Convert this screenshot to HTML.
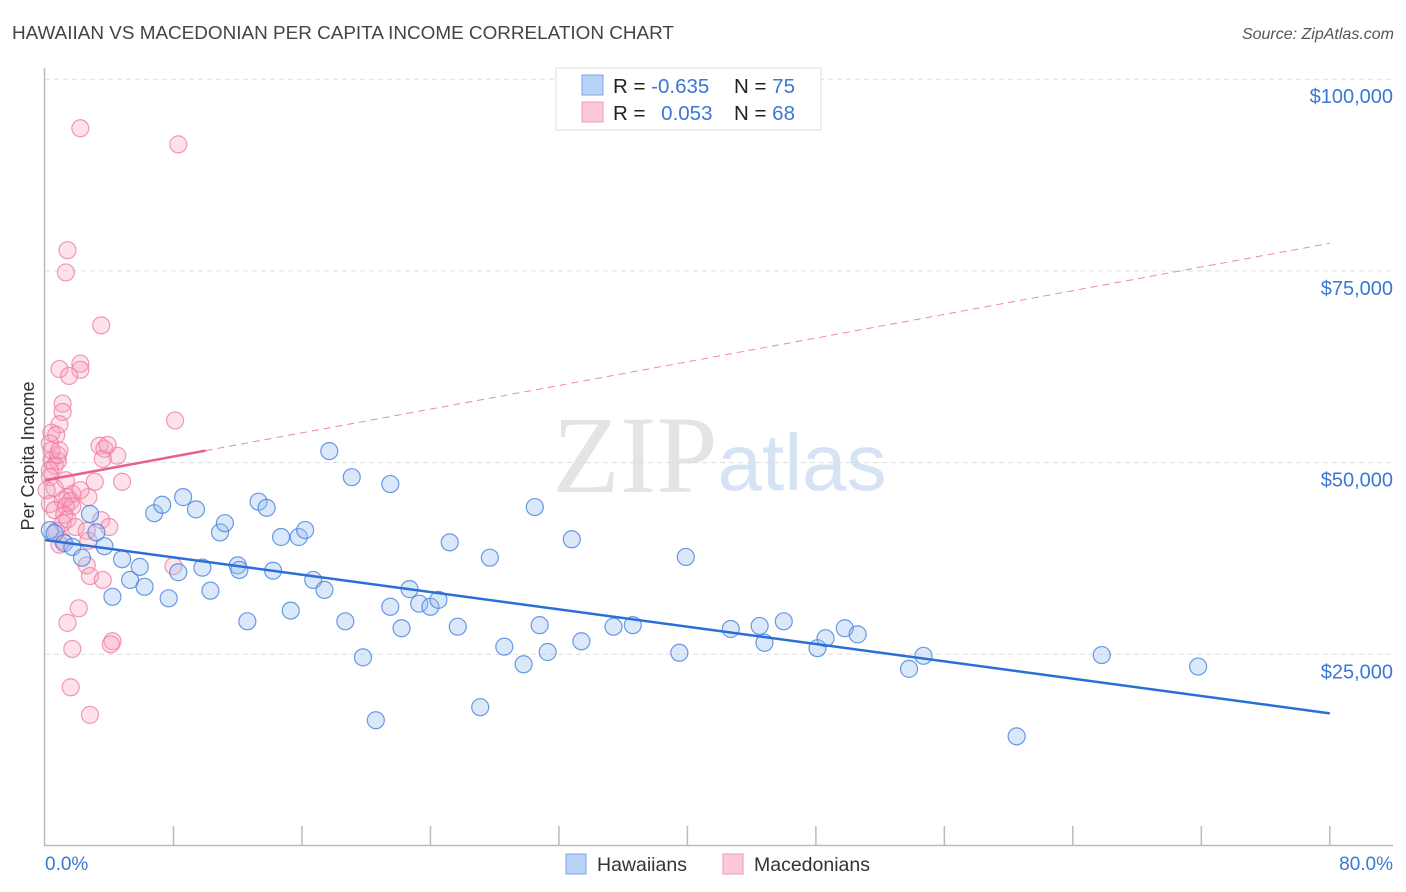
<!DOCTYPE html>
<html><head><meta charset="utf-8"><style>
body{margin:0;background:#fff;font-family:"Liberation Sans",sans-serif;}
#wrap{position:relative;width:1406px;height:892px;overflow:hidden;}
</style></head><body>
<div id="wrap">
<svg id="chart" width="1406" height="892" xmlns="http://www.w3.org/2000/svg">
<text x="12" y="39" font-size="18.9" fill="#444">HAWAIIAN VS MACEDONIAN PER CAPITA INCOME CORRELATION CHART</text>
<text x="1394" y="39" font-size="16" fill="#555" font-style="italic" text-anchor="end">Source: ZipAtlas.com</text>
<text x="635" y="492" font-size="110" fill="#e4e4e4" font-family="Liberation Serif" text-anchor="middle">ZIP</text>
<text x="802" y="490" font-size="80" fill="#d6e3f4" text-anchor="middle">atlas</text>
<g id="grid"></g>
<g id="axes"></g>
<g id="pts"></g>
<g id="trend"></g>
<text transform="translate(34,456) rotate(-90)" font-size="18" fill="#333" text-anchor="middle">Per Capita Income</text>
<text x="45" y="870" font-size="19" fill="#3a78d4">0.0%</text>
<text x="1393" y="870" font-size="19" fill="#3a78d4" text-anchor="end">80.0%</text>
<g>
<rect x="556" y="68" width="265" height="62" fill="#fff" stroke="#ddd"/>
<rect x="582" y="75" width="21" height="20" fill="#b9d2f5" stroke="#7aa6e6"/>
<rect x="582" y="102" width="21" height="20" fill="#fcc9d8" stroke="#f19ab6"/>
<text x="613" y="93" font-size="20.5" fill="#222">R = <tspan fill="#3a78d4">-0.635</tspan></text>
<text x="734" y="93" font-size="20.5" fill="#222">N = <tspan fill="#3a78d4">75</tspan></text>
<text x="613" y="120" font-size="20.5" fill="#222">R = <tspan fill="#3a78d4" dx="10">0.053</tspan></text>
<text x="734" y="120" font-size="20.5" fill="#222">N = <tspan fill="#3a78d4">68</tspan></text>
</g>
<g>
<rect x="566" y="854" width="20" height="20" fill="#b9d2f5" stroke="#7aa6e6"/>
<text x="597" y="871" font-size="19.5" fill="#333">Hawaiians</text>
<rect x="723" y="854" width="20" height="20" fill="#fcc9d8" stroke="#f19ab6"/>
<text x="754" y="871" font-size="19.5" fill="#333">Macedonians</text>
</g>
</svg>
</div>
<script>
const yTicks=[25000,50000,75000,100000];
const yTickLabels=["$25,000","$50,000","$75,000","$100,000"];
const xTicks=[0,8,16,24,32,40,48,56,64,72,80];
const blueX=[0.3,0.6,1.2,1.7,2.3,2.8,3.2,3.7,4.2,4.8,5.3,5.9,6.2,6.8,7.3,7.7,8.3,8.6,9.4,9.8,10.3,10.9,11.2,12.0,12.1,12.6,13.3,13.8,14.2,14.7,15.3,15.8,16.2,16.7,17.4,17.7,18.7,19.1,19.8,20.6,21.5,21.5,22.2,22.7,23.3,24.0,24.5,25.2,25.7,27.1,27.7,28.6,29.8,30.5,30.8,31.3,32.8,33.4,35.4,36.6,39.5,39.9,42.7,44.5,44.8,46.0,48.1,48.6,49.8,50.6,53.8,54.7,60.5,65.8,71.8];
const blueY=[41.2,40.8,39.5,39.0,37.6,43.3,40.9,39.1,32.5,37.4,34.7,36.4,33.8,43.4,44.5,32.3,35.7,45.5,43.9,36.3,33.3,40.9,42.1,36.6,36.0,29.3,44.9,44.1,35.9,40.3,30.7,40.3,41.2,34.7,33.4,51.5,29.3,48.1,24.6,16.4,47.2,31.2,28.4,33.5,31.6,31.2,32.1,39.6,28.6,18.1,37.6,26.0,23.7,44.2,28.8,25.3,40.0,26.7,28.6,28.8,25.2,37.7,28.3,28.7,26.5,29.3,25.8,27.1,28.4,27.6,23.1,24.8,14.3,24.9,23.4];
const pinkX=[2.2,8.3,1.4,1.3,3.5,2.2,0.9,2.2,1.5,1.1,1.1,8.1,0.9,0.4,0.7,3.4,0.3,3.7,4.5,3.6,0.4,0.8,0.6,0.3,0.3,4.8,3.1,0.6,1.7,1.4,1.1,1.6,2.7,0.3,1.3,1.7,0.6,1.2,1.4,3.5,4.0,1.1,1.9,0.7,2.6,1.1,0.9,2.7,2.6,8.0,2.8,3.6,2.1,1.4,4.2,4.1,1.7,1.6,2.8,0.8,0.4,2.2,1.3,0.1,0.9,3.9];
const pinkY=[93.6,91.5,77.7,74.8,67.9,62.9,62.2,62.1,61.3,57.7,56.6,55.5,55.0,53.9,53.6,52.2,52.5,51.8,50.9,50.5,50.3,50.2,49.6,49.0,48.1,47.5,47.5,46.7,45.9,45.5,45.1,45.0,45.5,44.6,44.3,44.3,43.8,43.2,42.6,42.5,41.6,42.1,41.6,41.1,41.1,39.8,39.3,39.8,36.6,36.5,35.2,34.7,31.0,29.1,26.7,26.3,25.7,20.7,17.1,51.0,51.6,46.4,47.7,46.4,51.6,52.3];
const blueTrend=[39.9,17.3];
const pinkTrend=[47.7,78.6];
const pinkSolidEnd=10;
const NS="http://www.w3.org/2000/svg";
function sx(p){return 45+p*16.06;}
function sy(v){return 846-v*0.0076680;}
function mk(t,a,parent){const e=document.createElementNS(NS,t);for(const k in a)e.setAttribute(k,a[k]);parent.appendChild(e);return e;}
const grid=document.getElementById('grid'),axes=document.getElementById('axes'),pts=document.getElementById('pts'),tr=document.getElementById('trend');
yTicks.forEach((v,i)=>{
 const l=mk('line',{x1:45,x2:1393,y1:sy(v),y2:sy(v),stroke:'#ddd','stroke-dasharray':'5,4'},grid);
 
 
 const t=mk('text',{x:1393,y:sy(v)+24,'font-size':20,fill:'#3a78d4','text-anchor':'end'},grid);
 t.textContent=yTickLabels[i];
 
 
});
const ya=mk('line',{x1:44.5,x2:44.5,y1:68,y2:846,stroke:'#bbb','stroke-width':1.5},axes);


const xa=mk('line',{x1:44,x2:1393,y1:845.5,y2:845.5,stroke:'#bbb','stroke-width':1.5},axes);


xTicks.forEach(p=>{
 if(p===0)return;
 const t=mk('line',{x1:sx(p),x2:sx(p),y1:826,y2:846,stroke:'#bbb','stroke-width':1.5},axes);
 
 
});
pinkX.forEach((x,i)=>{
 const c=mk('circle',{cx:sx(x),cy:sy(pinkY[i]*1000),r:8.5,fill:'rgba(248,160,188,0.3)',stroke:'rgba(238,120,158,0.75)','stroke-width':1.2},pts);
 
 
});
blueX.forEach((x,i)=>{
 const c=mk('circle',{cx:sx(x),cy:sy(blueY[i]*1000),r:8.5,fill:'rgba(150,190,240,0.35)',stroke:'rgba(70,130,220,0.8)','stroke-width':1.2},pts);
 
 
});
const bt=mk('line',{x1:sx(0),y1:sy(blueTrend[0]*1000),x2:sx(80),y2:sy(blueTrend[1]*1000),stroke:'#2a6fd8','stroke-width':2.5},tr);


const pv=x=>pinkTrend[0]+(pinkTrend[1]-pinkTrend[0])*x/80;
const ps=mk('line',{x1:sx(0),y1:sy(pv(0)*1000),x2:sx(pinkSolidEnd),y2:sy(pv(pinkSolidEnd)*1000),stroke:'#e8608e','stroke-width':2.5},tr);


const pd=mk('line',{x1:sx(pinkSolidEnd),y1:sy(pv(pinkSolidEnd)*1000),x2:sx(80),y2:sy(pv(80)*1000),stroke:'#eb8aaa','stroke-width':1,'stroke-dasharray':'7,5'},tr);


</script>
</body></html>
